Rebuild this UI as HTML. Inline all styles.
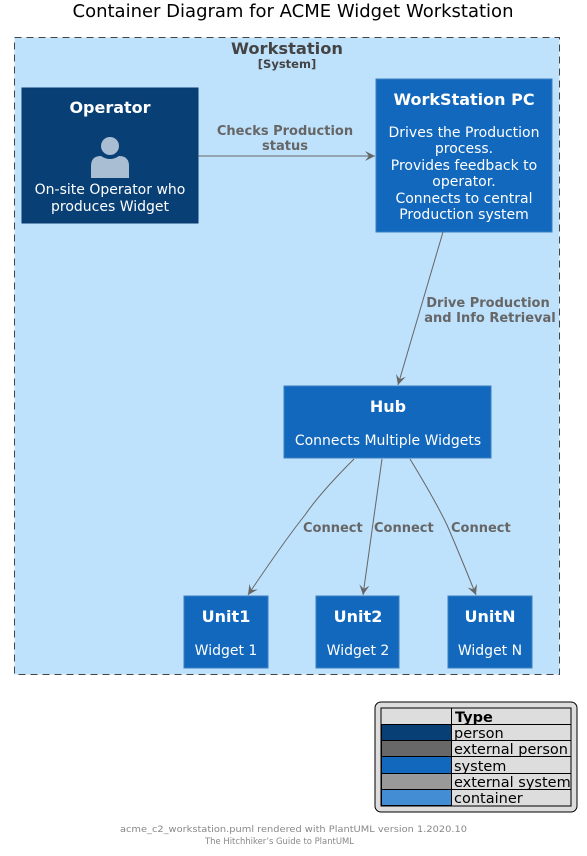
<!DOCTYPE html>
<html><head><meta charset="utf-8"><style>
html,body{margin:0;padding:0;background:#fff;}
svg{display:block;font-family:"DejaVu Sans","Liberation Sans",sans-serif;}
</style></head><body>
<svg width="587" height="856" viewBox="0 0 587 856" xmlns="http://www.w3.org/2000/svg">
<defs>
<marker id="a" markerWidth="12" markerHeight="12" refX="10" refY="5" orient="auto" markerUnits="userSpaceOnUse">
<path d="M0,0 L10,5 L0,10 L4,5 Z" fill="#666"/>
</marker>
</defs>
<text x="293" y="17" text-anchor="middle" font-size="18" fill="#000">Container Diagram for ACME Widget Workstation</text>
<rect x="14.5" y="37.5" width="545" height="637" fill="#BEE1FC" stroke="#444" stroke-dasharray="7,5"/>
<text x="287" y="54" text-anchor="middle" font-size="16.3" font-weight="bold" fill="#444">Workstation</text>
<text x="287" y="68" text-anchor="middle" font-size="11.5" font-weight="bold" fill="#444">[System]</text>

<rect x="22" y="88" width="176" height="135" fill="#083F75" stroke="#073B6F"/>
<text x="110" y="113" text-anchor="middle" font-size="16" font-weight="bold" fill="#fff">Operator</text>
<circle cx="110" cy="146" r="9" fill="#A9BED3"/>
<path d="M91,178 L91,166 Q91,156 101,156 Q110,162 119,156 Q129,156 129,166 L129,178 Z" fill="#A9BED3"/>
<text x="110" y="194" text-anchor="middle" font-size="14" fill="#fff">On-site Operator who</text>
<text x="110" y="211" text-anchor="middle" font-size="14" fill="#fff">produces Widget</text>

<rect x="376" y="79" width="176" height="153" fill="#1168BD" stroke="#3C7FC0"/>
<text x="464" y="105" text-anchor="middle" font-size="16" font-weight="bold" fill="#fff">WorkStation PC</text>
<g font-size="14" fill="#fff" text-anchor="middle">
<text x="464" y="137">Drives the Production</text>
<text x="464" y="153">process.</text>
<text x="464" y="170">Provides feedback to</text>
<text x="464" y="186">operator.</text>
<text x="464" y="203">Connects to central</text>
<text x="464" y="219">Production system</text>
</g>

<line x1="198" y1="156" x2="375" y2="156" stroke="#666" marker-end="url(#a)"/>
<text x="285" y="135" text-anchor="middle" font-size="13" font-weight="bold" fill="#666">Checks Production</text>
<text x="285" y="150" text-anchor="middle" font-size="13" font-weight="bold" fill="#666">status</text>

<line x1="443" y1="232" x2="398" y2="385" stroke="#666" marker-end="url(#a)"/>
<text x="488" y="307" text-anchor="middle" font-size="13" font-weight="bold" fill="#666">Drive Production</text>
<text x="490" y="322" text-anchor="middle" font-size="13" font-weight="bold" fill="#666">and Info Retrieval</text>

<rect x="284" y="386" width="207" height="72" fill="#1168BD" stroke="#3C7FC0"/>
<text x="388" y="412" text-anchor="middle" font-size="16" font-weight="bold" fill="#fff">Hub</text>
<text x="388" y="445" text-anchor="middle" font-size="14" fill="#fff">Connects Multiple Widgets</text>

<path d="M354,459 Q320,493 305,515 Q285,540 248,595" fill="none" stroke="#666" marker-end="url(#a)"/>
<path d="M382,459 L363,595" fill="none" stroke="#666" marker-end="url(#a)"/>
<path d="M410,459 Q435,500 447,525 Q460,555 476,595" fill="none" stroke="#666" marker-end="url(#a)"/>
<g font-size="13" font-weight="bold" fill="#666">
<text x="303" y="532">Connect</text>
<text x="374" y="532">Connect</text>
<text x="451" y="532">Connect</text>
</g>

<g fill="#1168BD" stroke="#3C7FC0">
<rect x="184" y="596" width="84" height="72"/>
<rect x="316" y="596" width="83" height="72"/>
<rect x="448" y="596" width="84" height="72"/>
</g>
<g text-anchor="middle" fill="#fff">
<text x="226" y="622" font-size="16" font-weight="bold">Unit1</text>
<text x="226" y="655" font-size="14">Widget 1</text>
<text x="358" y="622" font-size="16" font-weight="bold">Unit2</text>
<text x="358" y="655" font-size="14">Widget 2</text>
<text x="490" y="622" font-size="16" font-weight="bold">UnitN</text>
<text x="490" y="655" font-size="14">Widget N</text>
</g>

<rect x="375" y="702" width="202" height="110" rx="6" fill="#DDDDDD" stroke="#000"/>
<rect x="381" y="708" width="190" height="98" fill="#DDDDDD" stroke="#000"/>
<rect x="381.5" y="724.5" width="70" height="16" fill="#083F75" stroke="#000"/>
<rect x="381.5" y="740.5" width="70" height="16" fill="#686868" stroke="#000"/>
<rect x="381.5" y="756.5" width="70" height="17" fill="#1168BD" stroke="#000"/>
<rect x="381.5" y="773.5" width="70" height="16" fill="#999999" stroke="#000"/>
<rect x="381.5" y="789.5" width="70" height="16" fill="#438DD5" stroke="#000"/>
<g stroke="#000" fill="none">
<line x1="451.5" y1="708" x2="451.5" y2="806"/>
<line x1="381" y1="724.5" x2="571" y2="724.5"/>
<line x1="381" y1="740.5" x2="571" y2="740.5"/>
<line x1="381" y1="756.5" x2="571" y2="756.5"/>
<line x1="381" y1="773.5" x2="571" y2="773.5"/>
<line x1="381" y1="789.5" x2="571" y2="789.5"/>
</g>
<g font-size="14.5" fill="#000">
<text x="455" y="722" font-weight="bold">Type</text>
<text x="454" y="738">person</text>
<text x="454" y="754">external person</text>
<text x="454" y="771">system</text>
<text x="454" y="787">external system</text>
<text x="454" y="803">container</text>
</g>

<text x="120" y="832" font-size="9" fill="#888" textLength="347" lengthAdjust="spacingAndGlyphs">acme_c2_workstation.puml rendered with PlantUML version 1.2020.10</text>
<text x="205" y="844" font-size="9" fill="#888" textLength="149" lengthAdjust="spacingAndGlyphs">The Hitchhiker’s Guide to PlantUML</text>
</svg>
</body></html>
